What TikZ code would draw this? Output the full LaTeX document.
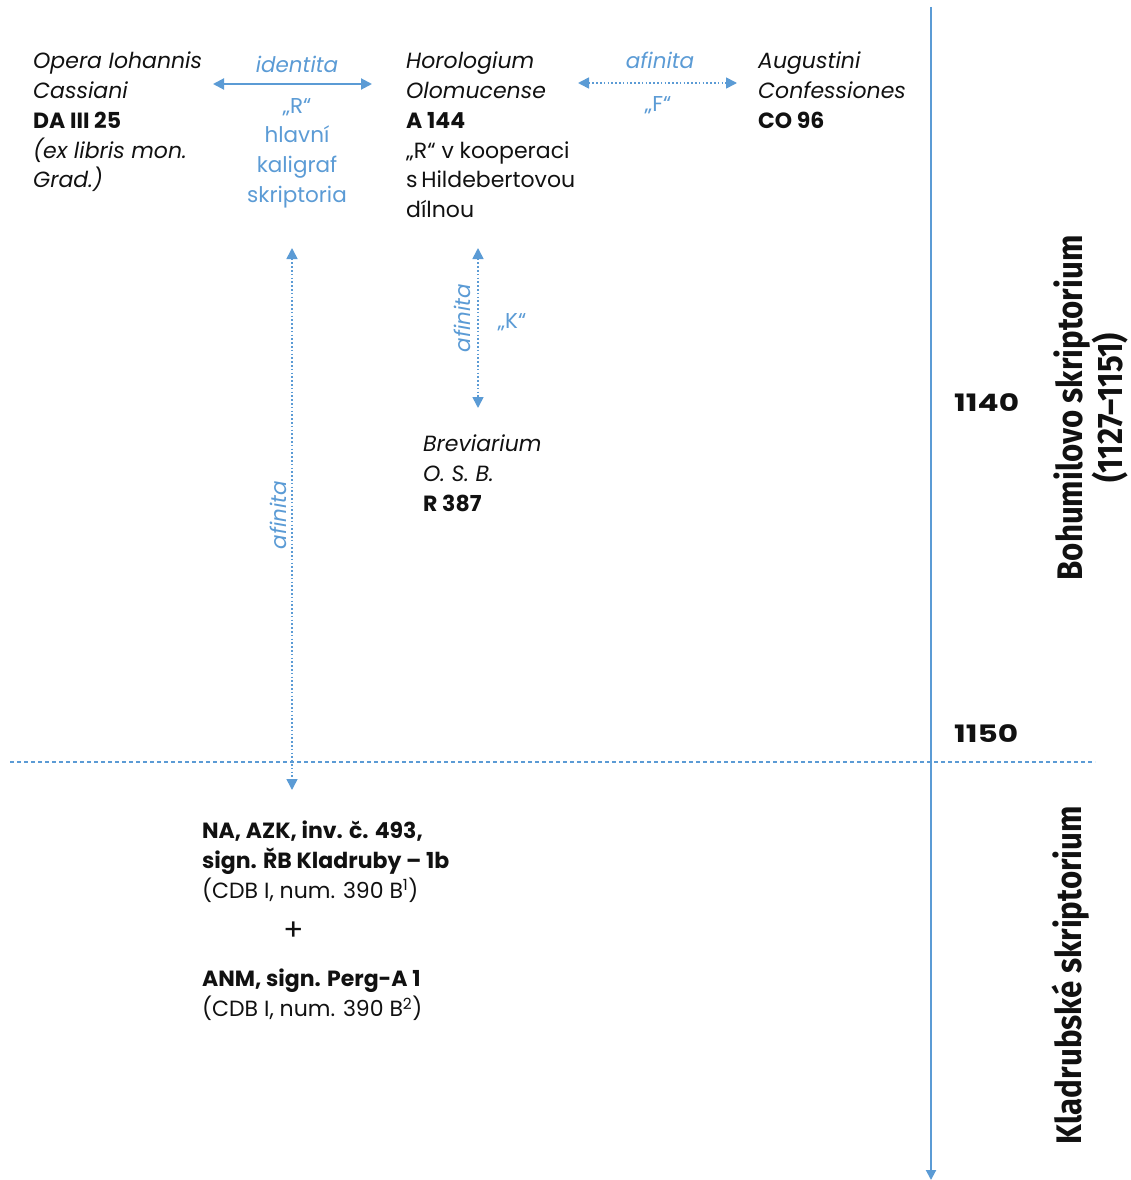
\documentclass[tikz,border=0pt]{standalone}
\usepackage{fontspec}
\setmainfont[Ligatures=NoCommon]{Poppins}
\newfontfamily\condfont[FakeStretch=0.88]{Fira Sans}
\newcommand\mysidefont{\condfont\bfseries\fontsize{35.5}{37}\selectfont}
\usetikzlibrary{arrows.meta}
\definecolor{tblue}{HTML}{5B9BD5}
\definecolor{tblack}{HTML}{111111}
\tikzset{
  txt/.style={inner sep=0pt, align=left, text=tblack, font=\fontsize{22}{29.7}\selectfont},
  btxt/.style={inner sep=0pt, align=center, text=tblue, font=\fontsize{21.5}{29.7}\selectfont},
  dotarrow/.style={tblue, line width=1.6pt, dash pattern=on 1.6pt off 2.2pt, {Triangle[length=11pt,width=11pt]}-{Triangle[length=11pt,width=11pt]}},
  solarrow/.style={tblue, line width=2pt, {Triangle[length=11pt,width=11pt]}-{Triangle[length=11pt,width=11pt]}},
  year/.style={inner sep=0pt, text=tblack, font=\fontsize{24}{28}\selectfont\bfseries},
  side/.style={inner sep=0pt, align=center, text=tblack, rotate=90, font=\mysidefont}
}
\begin{document}
\begin{tikzpicture}[x=1pt,y=-1pt]
\useasboundingbox (0,0) rectangle (1131,1180);
% timeline
\coordinate (tl0) at (931,7);
\coordinate (tl1) at (931,1180);
\draw[tblue, line width=2pt, -{Triangle[length=10pt,width=10pt]}] (tl0) -- (tl1);
\coordinate (h0) at (10,762);
\coordinate (h1) at (1095,762);
\draw[tblue, line width=1.4pt, dash pattern=on 4pt off 3pt] (h0) -- (h1);
\node[year, anchor=west] (y1140) at (954,403) {\scalebox{1.3}[1]{1140}};
\node[year, anchor=west] (y1150) at (954,734) {\scalebox{1.3}[1]{1150}};
\node[side] (boh) at (1091,408) {Bohumilovo skriptorium\\(1127–1151)};
\node[side] (kla) at (1071,975) {Kladrubské skriptorium};

% manuscripts
\node[txt, anchor=north west] (opera) at (33,52) {\itshape Opera Iohannis\\\itshape Cassiani\\\textbf{DA III 25}\\\itshape (ex libris mon.\\\itshape Grad.)};
\node[txt, anchor=north west] (horo) at (406,52) {\itshape Horologium\\\itshape Olomucense\\\textbf{A 144}\\„R“ v kooperaci\\s\,Hildebertovou\\dílnou};
\node[txt, anchor=north west] (aug) at (758,52) {\itshape Augustini\\\itshape Confessiones\\\textbf{CO 96}};
\node[txt, anchor=north west] (brev) at (423,435) {\itshape Breviarium\\\itshape O. S. B.\\\textbf{R 387}};
\node[txt, anchor=north west] (na) at (202,821) {\textbf{NA, AZK, inv. č. 493,}\\\textbf{sign. ŘB Kladruby – 1b}\\(CDB I, num. 390 B\textsuperscript{1})};
\node[txt, anchor=center] (plus) at (294,931) {\fontsize{30}{30}\selectfont +};
\node[txt, anchor=north west] (anm) at (202,969) {\textbf{ANM, sign. Perg-A 1}\\(CDB I, num. 390 B\textsuperscript{2})};

% connector labels
\node[btxt] (ident) at (297,64) {\itshape identita};
\node[btxt, anchor=north] (rlab) at (297,98) {„R“\\hlavní\\kaligraf\\skriptoria};
\node[btxt] (af1) at (660,60) {\itshape afinita};
\node[btxt] (flab) at (658,105) {„F“};
\node[btxt, rotate=90] (af2) at (462,318) {\itshape afinita};
\node[btxt] (klab) at (512,322) {„K“};
\node[btxt, rotate=90] (af3) at (278,515) {\itshape afinita};

% connectors
\coordinate (a1) at (213,84); \coordinate (a2) at (372,84);
\draw[solarrow] (a1) -- (a2);
\coordinate (b1) at (578,83); \coordinate (b2) at (737,83);
\draw[dotarrow] (b1) -- (b2);
\coordinate (c1) at (478,248); \coordinate (c2) at (478,408);
\draw[dotarrow] (c1) -- (c2);
\coordinate (d1) at (292,248); \coordinate (d2) at (292,790);
\draw[dotarrow] (d1) -- (d2);
\end{tikzpicture}
\end{document}
